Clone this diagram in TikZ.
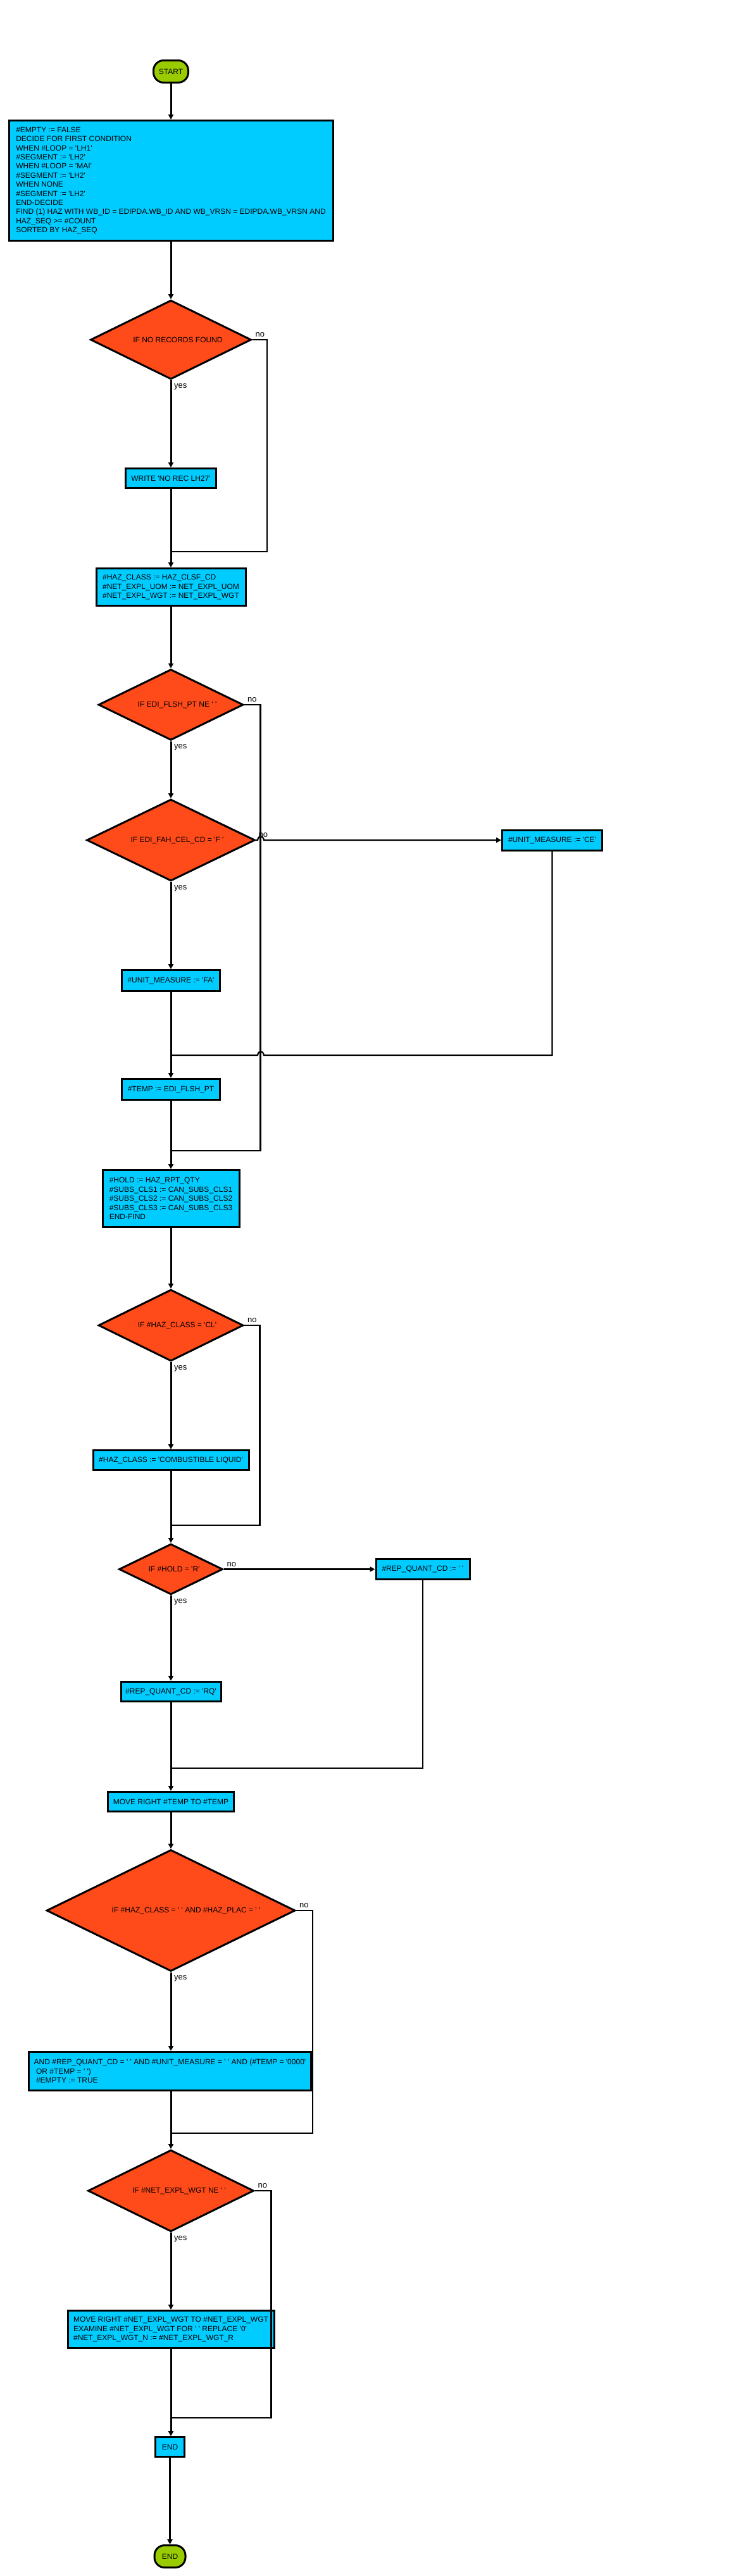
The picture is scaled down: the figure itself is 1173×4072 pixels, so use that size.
\documentclass[tikz,border=0pt]{standalone}
\usepackage{fontspec}
\setmainfont{Liberation Sans}[Ligatures=TeXOff]
\usetikzlibrary{shapes.geometric,arrows.meta}
\definecolor{boxcyan}{HTML}{00CCFF}
\definecolor{decred}{HTML}{FF4A1A}
\definecolor{termgreen}{HTML}{99CC00}
\begin{document}
\begin{tikzpicture}[x=1pt,y=-1pt,
  every node/.style={font=\fontsize{12}{14.4}\selectfont, inner sep=0pt},
  procbox/.style={draw=black, line width=3pt, fill=boxcyan, rectangle, align=left},
  decbox/.style={draw=black, line width=3pt, fill=decred, diamond, aspect=1},
  termbox/.style={draw=black, line width=3pt, fill=termgreen, rectangle, rounded corners=16pt},
  dtext/.style={font=\fontsize{12}{14.4}\selectfont},
  flow/.style={line width=3pt, -{Triangle[length=8pt,width=8pt]}},
  branch/.style={line width=2.2pt},
  branchar/.style={line width=2.2pt, -{Triangle[length=8pt,width=8pt]}},
  yeslbl/.style={font=\fontsize{13}{15}\selectfont, inner sep=1pt, anchor=north west},
  nolbl/.style={font=\fontsize{13}{15}\selectfont, inner sep=1pt, anchor=base west}
]
\path[fill=white] (0,0) rectangle (1173,4072);
\useasboundingbox (0,0) rectangle (1173,4072);

% nodes
\node[termbox, minimum width=55pt, minimum height=35pt] (start) at (270,113) {START};
\node[procbox, minimum width=512pt, minimum height=190pt] (init) at (270,285.5) {%
\#EMPTY := FALSE\\
DECIDE FOR FIRST CONDITION\\
WHEN \#LOOP = 'LH1'\\
\#SEGMENT := 'LH2'\\
WHEN \#LOOP = 'MAI'\\
\#SEGMENT := 'LH2'\\
WHEN NONE\\
\#SEGMENT := 'LH2'\\
END-DECIDE\\
FIND (1) HAZ WITH WB\_ID = EDIPDA.WB\_ID AND WB\_VRSN = EDIPDA.WB\_VRSN AND\\
HAZ\_SEQ >= \#COUNT\\
SORTED BY HAZ\_SEQ};

\node[decbox, minimum width=254pt, minimum height=125pt] (d1) at (270,537) {};
\node[dtext] (d1t) at ([xshift=11pt]d1.center) {IF NO RECORDS FOUND};

\node[procbox, minimum width=143pt, minimum height=31pt] (write) at (270,756) {WRITE 'NO REC LH27'};
\coordinate (j1) at (270,872);
\node[procbox, minimum width=236pt, minimum height=59pt] (hazc) at (270,928) {%
\#HAZ\_CLASS := HAZ\_CLSF\_CD\\
\#NET\_EXPL\_UOM := NET\_EXPL\_UOM\\
\#NET\_EXPL\_WGT := NET\_EXPL\_WGT};

\node[decbox, minimum width=229pt, minimum height=112pt] (d2) at (270,1114) {};
\node[dtext] (d2t) at ([xshift=10pt]d2.center) {IF EDI\_FLSH\_PT NE ' '};

\node[decbox, minimum width=266pt, minimum height=129pt] (d3) at (270,1328) {};
\node[dtext] (d3t) at ([xshift=10pt]d3.center) {IF EDI\_FAH\_CEL\_CD = 'F '};
\node[procbox, minimum width=158pt, minimum height=32pt] (ce) at (872.5,1328) {\#UNIT\_MEASURE := 'CE'};

\node[procbox, minimum width=155pt, minimum height=33pt] (fa) at (270,1550) {\#UNIT\_MEASURE := 'FA'};
\coordinate (j3) at (270,1668);
\node[procbox, minimum width=155pt, minimum height=33pt] (temp) at (270,1722) {\#TEMP := EDI\_FLSH\_PT};
\coordinate (j2) at (270,1819);
\node[procbox, minimum width=216pt, minimum height=90pt] (hold) at (270,1894.5) {%
\#HOLD := HAZ\_RPT\_QTY\\
\#SUBS\_CLS1 := CAN\_SUBS\_CLS1\\
\#SUBS\_CLS2 := CAN\_SUBS\_CLS2\\
\#SUBS\_CLS3 := CAN\_SUBS\_CLS3\\
END-FIND};

\node[decbox, minimum width=229pt, minimum height=113pt] (d4) at (270,2095) {};
\node[dtext] (d4t) at ([xshift=10pt]d4.center) {IF \#HAZ\_CLASS = 'CL'};
\node[procbox, minimum width=246pt, minimum height=31pt] (comb) at (270,2308) {\#HAZ\_CLASS := 'COMBUSTIBLE LIQUID'};
\coordinate (j4) at (270,2411);

\node[decbox, minimum width=164pt, minimum height=80pt] (d5) at (270,2480.5) {};
\node[dtext] (d5t) at ([xshift=5pt]d5.center) {IF \#HOLD = 'R'};
\node[procbox, minimum width=148pt, minimum height=32pt] (repq) at (668,2480.5) {\#REP\_QUANT\_CD := ' '};
\node[procbox, minimum width=158pt, minimum height=31pt] (rq) at (270,2674) {\#REP\_QUANT\_CD := 'RQ'};
\coordinate (j5) at (270,2795);
\node[procbox, minimum width=199pt, minimum height=31pt] (mtemp) at (270,2848) {MOVE RIGHT \#TEMP TO \#TEMP};

\node[decbox, minimum width=393pt, minimum height=192pt] (d6) at (270,3020) {};
\node[dtext] (d6t) at ([xshift=24pt]d6.center) {IF \#HAZ\_CLASS = ' ' AND \#HAZ\_PLAC = ' '};
\node[procbox, minimum width=446pt, minimum height=61pt] (andb) at (268.5,3274) {%
AND \#REP\_QUANT\_CD = ' ' AND \#UNIT\_MEASURE = ' ' AND (\#TEMP = '0000'\\
\hspace*{3.3pt}OR \#TEMP = ' ')\\
\hspace*{3.3pt}\#EMPTY := TRUE};
\coordinate (j6) at (270,3372);

\node[decbox, minimum width=262pt, minimum height=129pt] (d7) at (270,3463) {};
\node[dtext] (d7t) at ([xshift=13pt]d7.center) {IF \#NET\_EXPL\_WGT NE ' '};
\node[procbox, minimum width=326pt, minimum height=59pt] (mright) at (270,3682) {%
MOVE RIGHT \#NET\_EXPL\_WGT TO \#NET\_EXPL\_WGT\\
EXAMINE \#NET\_EXPL\_WGT FOR ' ' REPLACE '0'\\
\#NET\_EXPL\_WGT\_N := \#NET\_EXPL\_WGT\_R};
\coordinate (j7) at (270,3822);

\node[procbox, minimum width=46pt, minimum height=31pt] (endb) at (268.5,3868) {END};
\node[termbox, minimum width=49pt, minimum height=35pt] (endt) at (268.5,4041) {END};

% connectors
\draw[flow] (start) -- (init);
\draw[flow] (init) -- (d1);
\draw[flow] (d1) -- (write);
\node[yeslbl] at ([xshift=4pt,yshift=-4pt]d1.south) {yes};
\draw[branch] (d1.east) -- ++(23.5,0) |- (j1);
\node[nolbl] at ([xshift=4pt,yshift=5pt]d1.east) {no};
\draw[flow] (write) -- (hazc);
\draw[flow] (hazc) -- (d2);

\draw[flow] (d2) -- (d3);
\node[yeslbl] at ([xshift=4pt,yshift=-4pt]d2.south) {yes};
\draw[branch] (d2.east) -- ++(25.5,0) |- (j2);
\node[nolbl] at ([xshift=4pt,yshift=5pt]d2.east) {no};

\draw[flow] (d3) -- (fa);
\node[yeslbl] at ([xshift=4pt,yshift=-4pt]d3.south) {yes};
\draw[branchar] (d3.east) -- (407,1328) .. controls (408.5,1320) and (415.5,1320) .. (417,1328) -- (ce.west);
\node[nolbl] at ([xshift=3pt,yshift=5pt]d3.east) {no};
\draw[branch] (ce.south) -- (872.5,1668) -- (417,1668) .. controls (415.5,1660) and (408.5,1660) .. (407,1668) -- (j3);
\draw[flow] (fa) -- (temp);
\draw[flow] (temp) -- (hold);

\draw[flow] (hold) -- (d4);
\draw[flow] (d4) -- (comb);
\node[yeslbl] at ([xshift=4pt,yshift=-4pt]d4.south) {yes};
\draw[branch] (d4.east) -- ++(24.5,0) |- (j4);
\node[nolbl] at ([xshift=4pt,yshift=5pt]d4.east) {no};
\draw[flow] (comb) -- (d5);

\draw[branchar] (d5) -- (repq);
\node[nolbl] at ([xshift=4pt,yshift=4pt]d5.east) {no};
\draw[flow] (d5) -- (rq);
\node[yeslbl] at ([xshift=4pt,yshift=-4pt]d5.south) {yes};
\draw[branch] (repq.south) |- (j5);
\draw[flow] (rq) -- (mtemp);
\draw[flow] (mtemp) -- (d6);

\draw[flow] (d6.south) -- (d6.south |- andb.north);
\node[yeslbl] at ([xshift=4pt,yshift=-4pt]d6.south) {yes};
\draw[branch] (d6.east) -- ++(26,0) |- (j6);
\node[nolbl] at ([xshift=4pt,yshift=5pt]d6.east) {no};
\draw[flow] (andb.south -| d7.north) -- (d7.north);

\draw[flow] (d7) -- (mright);
\node[yeslbl] at ([xshift=4pt,yshift=-4pt]d7.south) {yes};
\draw[branch] (d7.east) -- ++(26,0) |- (j7);
\node[nolbl] at ([xshift=4pt,yshift=5pt]d7.east) {no};
\draw[flow] (mright.south) -- (mright.south |- endb.north);
\draw[flow] (endb) -- (endt);
\end{tikzpicture}
\end{document}
